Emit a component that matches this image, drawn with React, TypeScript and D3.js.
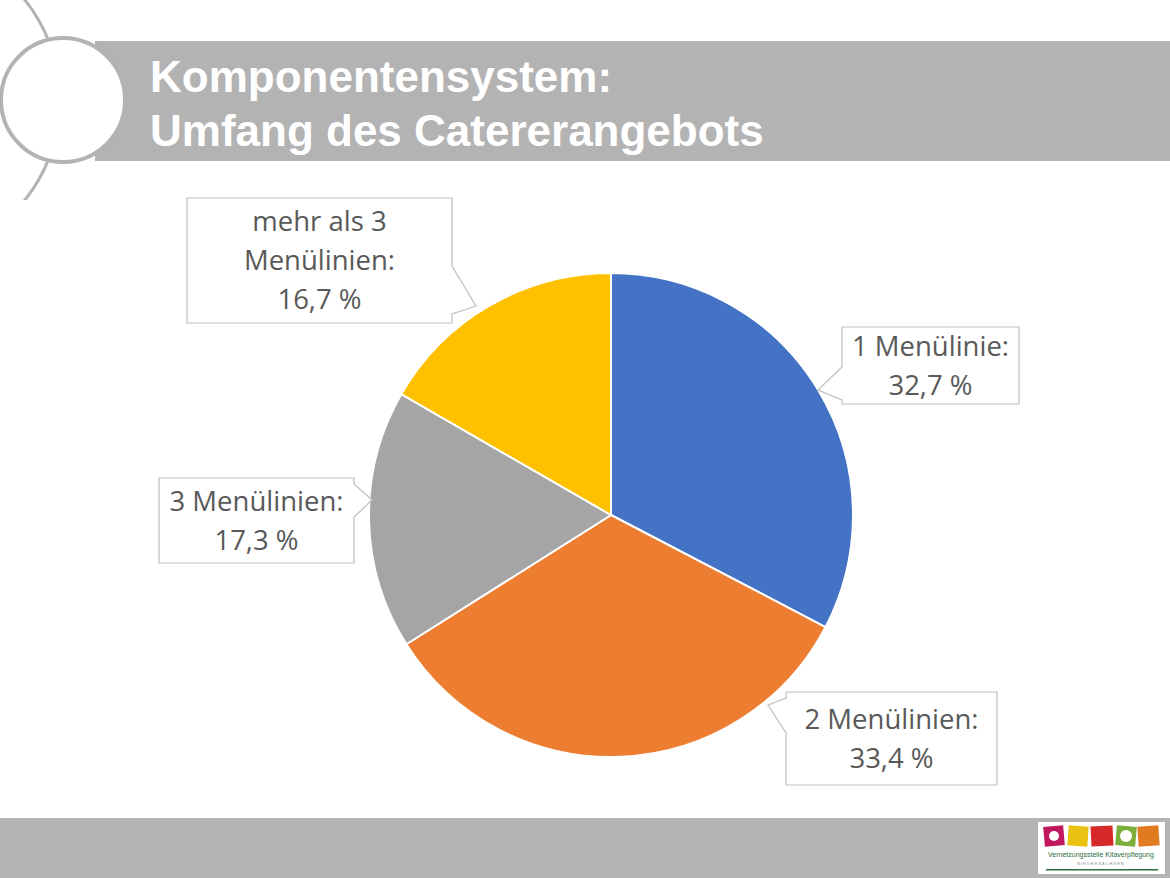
import React from "react";
import * as d3 from "d3";

const categories = ["1 Menülinie", "2 Menülinien", "3 Menülinien", "mehr als 3 Menülinien"];
const values = [32.7, 33.4, 17.3, 16.7];
const labelLines = [
  ["1 Menülinie:", "32,7 %"],
  ["2 Menülinien:", "33,4 %"],
  ["3 Menülinien:", "17,3 %"],
  ["mehr als 3", "Menülinien:", "16,7 %"],
];
const colors = ["#4472C4", "#ED7D31", "#A5A5A5", "#FFC000"];
const titleLines = ["Komponentensystem:", "Umfang des Catererangebots"];

// callout layout: box, side of pointer, pointer base positions along side, tip
const callouts = [
  { x: 842, y: 327, w: 177, h: 77, side: "left", a: 367, b: 400, tx: 818, ty: 390 },
  { x: 786, y: 692, w: 211, h: 93, side: "left", a: 698, b: 733, tx: 768, ty: 705 },
  { x: 159, y: 478, w: 195, h: 85, side: "right", a: 484, b: 517, tx: 372, ty: 500 },
  { x: 187, y: 198, w: 265, h: 125, side: "right", a: 266, b: 314, tx: 476, ty: 306 },
];

function calloutPath(c: any) {
  const x0 = c.x, y0 = c.y, x1 = c.x + c.w, y1 = c.y + c.h;
  if (c.side === "right") {
    return `M${x0},${y0}H${x1}V${c.a}L${c.tx},${c.ty}L${x1},${c.b}V${y1}H${x0}Z`;
  }
  return `M${x0},${y0}H${x1}V${y1}H${x0}V${c.b}L${c.tx},${c.ty}L${x0},${c.a}Z`;
}

export default function App() {
  const W = 1170, H = 878;
  const cx = 611, cy = 515, r = 242;
  const pie = d3.pie<number>().sort(null).value((d) => d)(values);
  const arc = d3.arc<d3.PieArcDatum<number>>().innerRadius(0).outerRadius(r);
  const lineH = 39;

  return (
    <svg
      width={W}
      height={H}
      style={{ position: "absolute", left: 0, top: 0, background: "#fff" }}
    >
      <defs>
        <clipPath id="arcClip">
          <rect x={0} y={0} width={200} height={200} />
        </clipPath>
      </defs>
      <rect x={0} y={0} width={W} height={H} fill="#fff" />
      {/* title band */}
      <rect x={95} y={41} width={W - 95} height={120} fill="#B3B3B3" />
      <circle cx={-100} cy={100} r={160} fill="none" stroke="#B3B3B3" strokeWidth={3} clipPath="url(#arcClip)" />
      <circle cx={63} cy={100} r={62} fill="#fff" stroke="#B3B3B3" strokeWidth={4} />
      {titleLines.map((t, i) => (
        <text
          key={i}
          x={150}
          y={92 + i * 54}
          fill="#fff"
          fontFamily="'Liberation Sans', Arial, sans-serif"
          fontWeight="bold"
          fontSize={44}
        >
          {t}
        </text>
      ))}

      {/* pie */}
      <g transform={`translate(${cx},${cy})`}>
        {pie.map((d, i) => (
          <path key={categories[i]} d={arc(d) as string} fill={colors[i]} stroke="#fff" strokeWidth={2} />
        ))}
      </g>

      {/* callouts */}
      {callouts.map((c, i) => {
        const lines = labelLines[i];
        const total = (lines.length - 1) * lineH;
        const midY = c.y + c.h / 2;
        return (
          <g key={i}>
            <path d={calloutPath(c)} fill="#fff" stroke="#BFBFBF" strokeWidth={1.2} />
            {lines.map((l, j) => (
              <text
                key={j}
                x={c.x + c.w / 2}
                y={midY - total / 2 + j * lineH}
                dy="0.35em"
                textAnchor="middle"
                fill="#595959"
                fontFamily="'Open Sans', sans-serif"
                fontSize={27.5}
              >
                {l}
              </text>
            ))}
          </g>
        );
      })}

      {/* bottom band */}
      <rect x={0} y={818} width={W} height={60} fill="#B3B3B3" />
      <g>
        <rect x={1038} y={822} width={127} height={52} fill="#fff" />
        <rect x={1044} y={826} width={20} height={20} fill="#C0175D" transform="rotate(-5 1054 836)" />
        <rect x={1068} y={826} width={20} height={20} fill="#E9C212" transform="rotate(4 1078 836)" />
        <rect x={1091} y={826} width={22} height={20} fill="#D62A2A" transform="rotate(-3 1102 836)" />
        <rect x={1116} y={826} width={20} height={20} fill="#7BAE3A" transform="rotate(5 1126 836)" />
        <rect x={1138} y={826} width={21} height={20} fill="#E07B22" transform="rotate(-4 1148 836)" />
        <circle cx={1054} cy={836} r={5} fill="#fff" />
        <circle cx={1126} cy={836} r={6} fill="#fff" />
        <text x={1101} y={857} textAnchor="middle" fontSize={7} fill="#2E6E3E" fontFamily="'Liberation Sans', sans-serif">
          Vernetzungsstelle Kitaverpflegung
        </text>
        <text x={1101} y={865} textAnchor="middle" fontSize={4} fill="#888" fontFamily="'Liberation Sans', sans-serif" letterSpacing={1}>
          NIEDERSACHSEN
        </text>
        <rect x={1046} y={869} width={112} height={1.5} fill="#2E6E3E" />
      </g>
    </svg>
  );
}
